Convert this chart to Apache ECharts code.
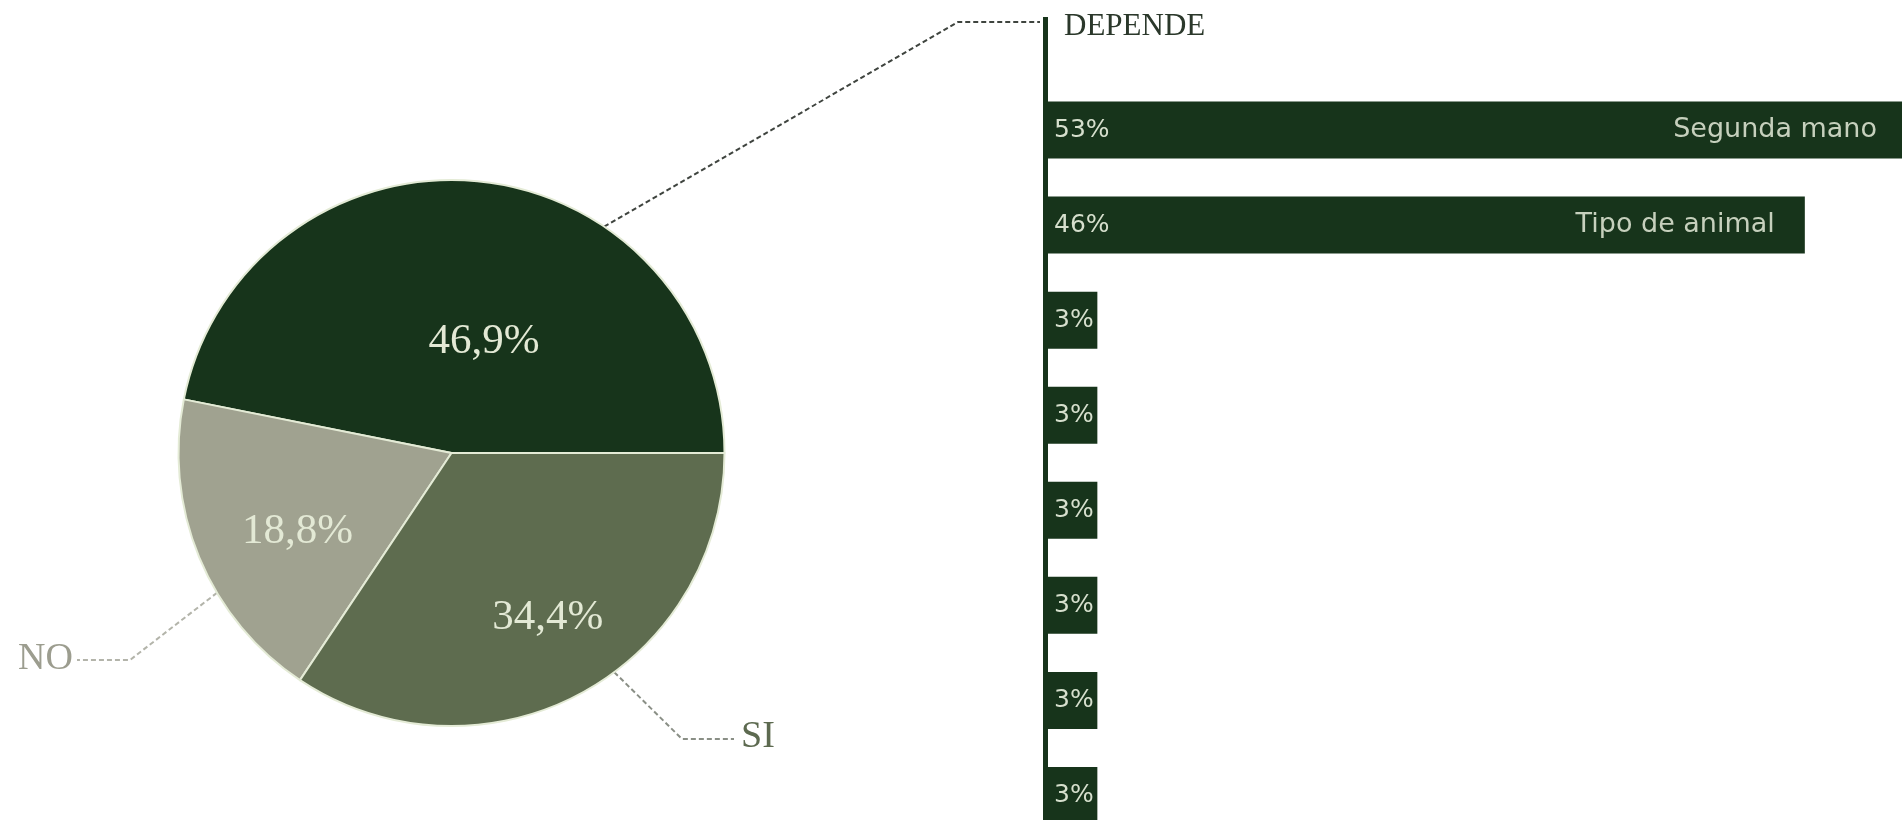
<!DOCTYPE html>
<html>
<head>
<meta charset="utf-8">
<script src="https://cdn.jsdelivr.net/npm/echarts@6/dist/echarts.min.js"></script>
<style>
  html, body { margin: 0; padding: 0; background: #ffffff; }
  #chart { width: 1902px; height: 820px; }
</style>
</head>
<body>
<div id="chart"></div>
<script>
// ---- data ----
const pieNames = ['DEPENDE', 'NO', 'SI'];
const pieValues = [46.9, 18.8, 34.4];
const pieLabels = ['46,9%', '18,8%', '34,4%'];

const barCategories = ['Segunda mano', 'Tipo de animal', 'c3', 'c4', 'c5', 'c6', 'c7', 'c8'];
const barNames = ['Segunda mano', 'Tipo de animal', '', '', '', '', '', ''];
const barValues = [53, 46, 3, 3, 3, 3, 3, 3];

// ---- styles / layout ----
const DARK = '#17341b';
const sliceColors = ['#17341b', '#a0a290', '#5e6c4f'];
const nameColors = ['#2b382b', '#9c9d8f', '#5d6a50'];
const nameSizes = [31, 38, 38];
const lineColors = ['#3f443f', '#b3b4aa', '#8a8f86'];
const nameDistances = [43, 30, 30, 30, 30, 30, 30, 30];
const PIE_CENTER = [451.5, 453];
const PIE_R = 273;
// inside label placement: [angle deg, distance from centre]
const insidePolar = [[73.7, 116], [207.1, 173], [300.3, 191]];
// connector layout for outer labels
const connectors = [
  { deg: 56, elbow: [958, 22], end: [1040, 22], label: [1064, 27], align: 'left' },
  { deg: 210.8, elbow: [130, 660], end: [77, 660], label: [73, 659], align: 'right' },
  { deg: 306.6, elbow: [682, 739], end: [734, 739], label: [741, 737], align: 'left' }
];

function polar(deg, r) {
  const a = deg * Math.PI / 180;
  return [PIE_CENTER[0] + r * Math.cos(a), PIE_CENTER[1] - r * Math.sin(a)];
}

const chart = echarts.init(document.getElementById('chart'), null, { renderer: 'canvas' });

const option = {
  backgroundColor: '#ffffff',
  animation: false,
  grid: { left: 1048, width: 872, top: 82.5, height: 760.5, containLabel: false, outerBoundsMode: 'none' },
  xAxis: { type: 'value', min: 0, max: 53, show: false },
  yAxis: {
    type: 'category', inverse: true, data: barCategories,
    axisLine: { show: false }, axisTick: { show: false }, axisLabel: { show: false }, splitLine: { show: false }
  },
  series: [
    {
      type: 'pie',
      center: PIE_CENTER,
      radius: PIE_R,
      startAngle: 0,
      clockwise: false,
      avoidLabelOverlap: false,
      silent: true,
      data: pieNames.map((n, i) => ({
        name: n, value: pieValues[i],
        itemStyle: { color: sliceColors[i] }
      })),
      itemStyle: { borderColor: '#e4ebd6', borderWidth: 2 },
      label: {
        show: true, position: 'inside',
        formatter: (p) => pieLabels[p.dataIndex],
        fontFamily: 'Liberation Serif', fontSize: 43, color: '#e3e9d5'
      },
      labelLine: { show: false },
      labelLayout: (p) => {
        const pt = polar(insidePolar[p.dataIndex][0], insidePolar[p.dataIndex][1]);
        return { x: pt[0], y: pt[1], align: 'center', verticalAlign: 'middle' };
      }
    },
    {
      type: 'pie',
      center: PIE_CENTER,
      radius: PIE_R,
      startAngle: 0,
      clockwise: false,
      avoidLabelOverlap: false,
      silent: true,
      z: 1,
      data: pieNames.map((n, i) => ({
        name: n, value: pieValues[i],
        label: { color: nameColors[i], fontSize: nameSizes[i] },
        labelLine: { lineStyle: { color: lineColors[i] } }
      })),
      itemStyle: { color: 'rgba(0,0,0,0)', borderWidth: 0 },
      label: {
        show: true, position: 'outside', formatter: '{b}',
        fontFamily: 'Liberation Serif', fontSize: 36
      },
      labelLine: { show: true, lineStyle: { type: [5, 3], width: 2 } },
      labelLayout: (p) => {
        const c = connectors[p.dataIndex];
        return {
          x: c.label[0], y: c.label[1], align: c.align, verticalAlign: 'middle',
          labelLinePoints: [polar(c.deg, PIE_R), c.elbow, c.end]
        };
      }
    },
    {
      type: 'bar',
      data: barValues,
      barCategoryGap: '40%',
      barGap: '-100%',
      itemStyle: { color: DARK },
      label: {
        show: true, position: 'insideLeft', distance: 6,
        formatter: '{c}%',
        fontFamily: 'DejaVu Sans', fontSize: 25, color: '#d6dfcd'
      }
    },
    {
      type: 'bar',
      data: barValues.map((v, i) => ({ value: v, label: { distance: nameDistances[i] } })),
      barCategoryGap: '40%',
      barGap: '-100%',
      itemStyle: { color: 'rgba(0,0,0,0)' },
      label: {
        show: true, position: 'insideRight',
        formatter: (p) => barNames[p.dataIndex],
        fontFamily: 'DejaVu Sans', fontSize: 27, color: '#c6d0bd'
      }
    }
  ]
};
chart.setOption(option);

const x0 = chart.convertToPixel({ xAxisIndex: 0 }, 0);
chart.setOption({
  graphic: [{
    type: 'line', silent: true, z: 10,
    shape: { x1: x0 - 2.5, y1: 17, x2: x0 - 2.5, y2: 820 },
    style: { stroke: DARK, lineWidth: 5 }
  }]
});
</script>
</body>
</html>
